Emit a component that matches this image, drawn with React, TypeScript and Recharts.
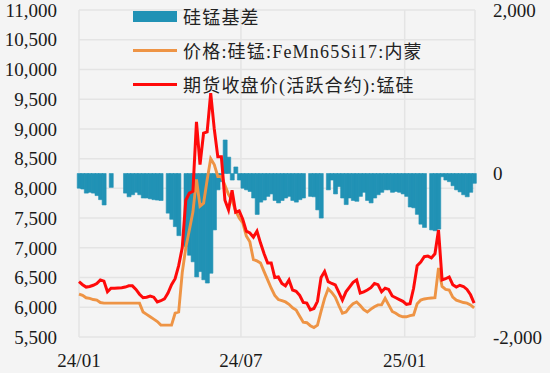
import React from 'react';
import { ComposedChart, Bar, Line, XAxis, YAxis, CartesianGrid } from 'recharts';

// days since 2024-01-01, sampled every 4 days
const days = [
  0, 4, 8, 12, 16, 20, 24, 28, 32, 36, 40, 44, 48, 52, 56, 60, 64, 68, 72, 76,
  80, 84, 88, 92, 96, 100, 104, 108, 112, 116, 120, 124, 128, 132, 136, 140, 144, 148, 152, 156,
  160, 164, 168, 172, 176, 180, 184, 188, 192, 196, 200, 204, 208, 212, 216, 220, 224, 228, 232, 236,
  240, 244, 248, 252, 256, 260, 264, 268, 272, 276, 280, 284, 288, 292, 296, 300, 304, 308, 312, 316,
  320, 324, 328, 332, 336, 340, 344, 348, 352, 356, 360, 364, 368, 372, 376, 380, 384, 388, 392, 396,
  400, 404, 408, 412, 416, 420, 424, 428, 432, 436, 440, 444,
];

// 硅锰基差 (right axis), null = no trading
const basis = [
  -180, -190, -240, -230, -240, -270, -320, -385, null, -170, null, null, null, -240, -285, -260, -230, -260, -300, -300,
  -310, -320, -325, -330, null, -485, -560, -650, -760, null, -895, -1000, -1080, -1265, -1200, -1300, -1340, -1220, -690, -200,
  -100, 410, 200, -80, 80, -80, -180, -200, -220, -300, -500, -350, -325, -280, -250, -330, -360, -330, -300, -280,
  -330, -350, -320, -300, null, -280, -285, -445, -545, null, -200, -80, -250, -160, -300, -380, -300, -330, -340, -280,
  -230, -330, -360, -300, -260, -230, -200, -200, -230, -220, -230, -250, -280, -410, -420, -500, -620, -660, null, -690,
  -700, -680, -40, -80, -100, -150, -200, -225, -260, -285, -230, -120,
];

// 价格:硅锰:FeMn65Si17:内蒙
const price = [
  6220, 6200, 6160, 6150, 6130, 6120, 6080, 6070, 6070, 6070, 6070, 6070, 6070, 6070, 6070, 6070, 6070, 6070, 5920, 5880,
  5840, 5800, 5760, 5700, 5700, 5700, 5700, 5900, 5920, 6580, 7000, 7300, 7600, 8150, 7700, 7750, 8140, 8500, 8400, 8200,
  8200, 8050, 7900, 7800, 7620, 7500, 7420, 7200, 7100, 6800, 6780, 6745, 6600, 6460, 6320, 6200, 6130, 6110, 6090, 6050,
  5990, 5955, 5850, 5750, 5740, 5690, 5660, 5700, 5930, 6150, 6310, 6250, 6170, 6030, 5900, 5920, 6000, 6060, 6090, 6030,
  5960, 5920, 5970, 6010, 6040, 6040, 6150, 6040, 5930, 5900, 5860, 5840, 5840, 5860, 5870, 6060, 6120, 6140, 6150, 6155,
  6160, 6660, 6350, 6300, 6290, 6170, 6120, 6100, 6080, 6070, 6040, 5990,
];

// 期货收盘价(活跃合约):锰硅
const futures = [
  6430, 6380, 6340, 6350, 6370, 6400, 6460, 6440, 6260, 6320, 6320, 6325, 6330, 6340, 6360, 6360, 6300, 6220, 6160, 6170,
  6190, 6170, 6090, 6110, 6140, 6240, 6380, 6480, 6700, 7000, 7800, 7920, 7950, 9120, 8400, 8930, 8950, 9600, 9000, 8530,
  8530, 7800, 7640, 7970, 7600, 7620, 7480, 7280, 7250, 7180, 7280, 7080, 6900, 6745, 6745, 6500, 6510, 6400, 6360, 6460,
  6290, 6270, 6200, 6080, 6070, 5955, 5980, 6100, 6500, 6600, 6430, 6400, 6375, 6250, 6120, 6260, 6340, 6420, 6460, 6240,
  6260, 6290, 6330, 6400, 6380, 6260, 6320, 6300, 6190, 6160, 6130, 6100, 6050, 6060, 6320, 6700, 6760, 6850, 6860, 6830,
  6900, 7300, 6460, 6480, 6510, 6380, 6340, 6370, 6350, 6300, 6210, 6070,
];

const xTicks = [0, 182, 366];
const xLabels: Record<number, string> = { 0: '24/01', 182: '24/07', 366: '25/01' };
const leftTicks = [5500, 6000, 6500, 7000, 7500, 8000, 8500, 9000, 9500, 10000, 10500, 11000];
const rightTicks = [-2000, 0, 2000];

const rows = days.map((t, i) => ({ t, basis: basis[i], price: price[i], futures: futures[i] }));

const TEAL = '#2192B5';
const ORANGE = '#EE9445';
const RED = '#FF0A0A';
const FONT = '"Liberation Serif", "Noto Sans CJK SC", serif';
const tickStyle = { fontFamily: FONT, fontSize: 19, fill: '#1a1a1a' };

const fmt = (v: number) => v.toLocaleString('en-US');

function LegendRow({ top, kind, color, label }: { top: number; kind: 'rect' | 'line'; color: string; label: string }) {
  return (
    <div style={{ position: 'absolute', left: 133, top, height: 20, display: 'flex', alignItems: 'center' }}>
      {kind === 'rect' ? (
        <div style={{ width: 44, height: 11, background: color }} />
      ) : (
        <div style={{ width: 44, height: 3, background: color }} />
      )}
      <span style={{ marginLeft: 6, fontFamily: FONT, fontSize: 18, letterSpacing: 1.2, color: '#222', whiteSpace: 'nowrap' }}>
        {label}
      </span>
    </div>
  );
}

export default function App() {
  return (
    <div style={{ position: 'absolute', left: 0, top: 0, width: 550, height: 373, background: '#F4F4F4' }}>
      <ComposedChart width={550} height={373} data={rows} margin={{ top: 10, right: 0, bottom: 0, left: 0 }} barCategoryGap={0}>
        <CartesianGrid yAxisId="left" stroke="#E4E4E4" strokeWidth={1.5} />
        <XAxis
          dataKey="t"
          type="number"
          domain={[0, 445]}
          ticks={xTicks}
          tickFormatter={(v: number) => xLabels[v] ?? ''}
          axisLine={false}
          tickLine={false}
          tickSize={0}
          tickMargin={17}
          height={36}
          tick={tickStyle}
          interval={0}
        />
        <YAxis
          yAxisId="left"
          domain={[5500, 11000]}
          ticks={leftTicks}
          tickFormatter={fmt}
          axisLine={false}
          tickLine={false}
          tickSize={0}
          tickMargin={22}
          width={79}
          tick={tickStyle}
          interval={0}
        />
        <YAxis
          yAxisId="right"
          orientation="right"
          domain={[-2000, 2000]}
          ticks={rightTicks}
          tickFormatter={fmt}
          axisLine={false}
          tickLine={false}
          tickSize={0}
          tickMargin={18}
          width={75}
          tick={tickStyle}
          interval={0}
        />
        <Bar yAxisId="right" dataKey="basis" fill={TEAL} stroke={TEAL} strokeWidth={0.6} isAnimationActive={false} />
        <Line yAxisId="left" dataKey="price" stroke={ORANGE} strokeWidth={2.9} dot={false} isAnimationActive={false} />
        <Line yAxisId="left" dataKey="futures" stroke={RED} strokeWidth={3} dot={false} isAnimationActive={false} />
      </ComposedChart>
      <LegendRow top={6} kind="rect" color={TEAL} label="硅锰基差" />
      <LegendRow top={40} kind="line" color={ORANGE} label="价格:硅锰:FeMn65Si17:内蒙" />
      <LegendRow top={74} kind="line" color={RED} label="期货收盘价(活跃合约):锰硅" />
    </div>
  );
}
